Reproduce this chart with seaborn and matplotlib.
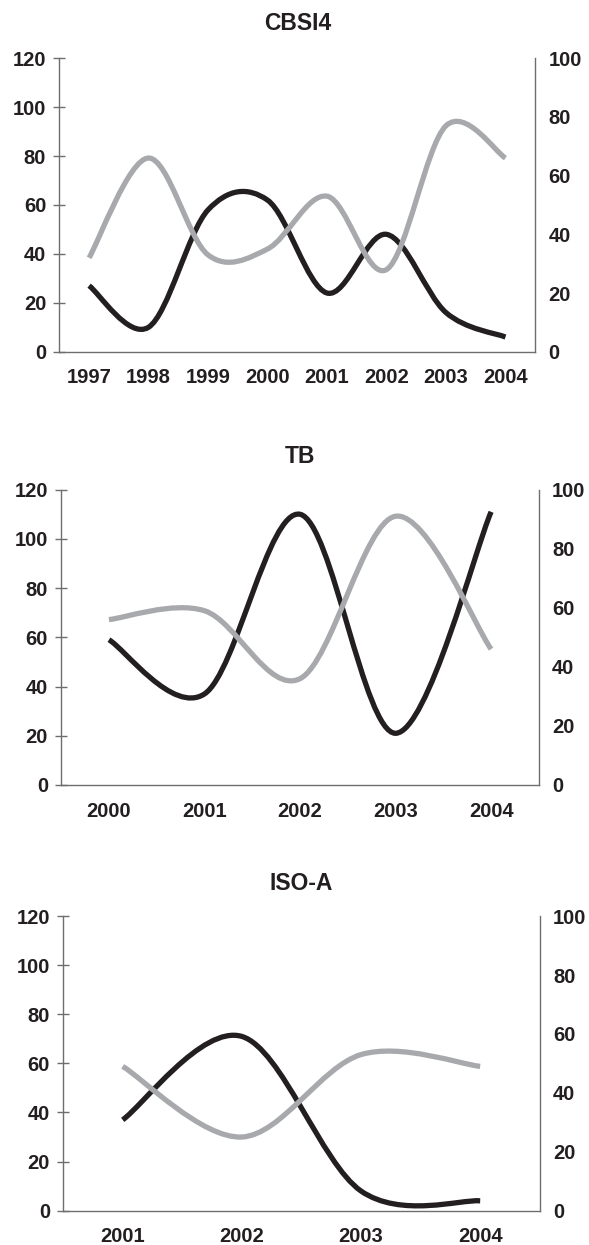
import numpy as np
import matplotlib
matplotlib.use("Agg")
import matplotlib.pyplot as plt
from matplotlib.path import Path
from matplotlib.patches import PathPatch
import seaborn as sns

# ------------------------------------------------------------
# data (black = left axis, gray = right axis)
# ------------------------------------------------------------
cbsi4_years = ['1997', '1998', '1999', '2000', '2001', '2002', '2003', '2004']
cbsi4_black = [27, 10, 58, 62, 24, 48, 16, 6]
cbsi4_gray = [32, 66, 33, 35, 53, 28, 77, 66]

tb_years = ['2000', '2001', '2002', '2003', '2004']
tb_black = [59, 37, 110, 21, 111]
tb_gray = [56, 59, 36, 91, 46]

isoa_years = ['2001', '2002', '2003', '2004']
isoa_black = [37, 71, 8, 4]
isoa_gray = [49, 25, 53, 49]

panels = [
    ('CBSI4', cbsi4_years, cbsi4_black, cbsi4_gray),
    ('TB', tb_years, tb_black, tb_gray),
    ('ISO-A', isoa_years, isoa_black, isoa_gray),
]

# axes boxes in figure fractions (left, bottom, width, height)
boxes = [
    (0.1007, 0.7175, 0.808, 0.2357),
    (0.1039, 0.3695, 0.811, 0.2372),
    (0.1071, 0.0276, 0.8093, 0.2365),
]
title_pads = [20, 19, 19]

BLACK = '#231f20'
GRAY = '#a7a9ac'
AXIS = '#6d6e71'
FS = 14.5

sns.set_style('white', {'axes.edgecolor': AXIS})
plt.rcParams['font.family'] = ['Liberation Sans', 'DejaVu Sans']
plt.rcParams['font.weight'] = 'bold'


def smooth_path(xs, ys):
    # Excel style smoothed line: cubic bezier through the points
    pts = np.column_stack([xs, ys]).astype(float)
    n = len(pts)
    verts = [pts[0]]
    codes = [Path.MOVETO]
    for i in range(n - 1):
        p_prev = pts[i - 1] if i > 0 else pts[i]
        p_next2 = pts[i + 2] if i + 2 < n else pts[i + 1]
        c1 = pts[i] + (pts[i + 1] - p_prev) / 6.0
        c2 = pts[i + 1] - (p_next2 - pts[i]) / 6.0
        verts += [c1, c2, pts[i + 1]]
        codes += [Path.CURVE4] * 3
    return Path(verts, codes)


def style_axis(ax):
    ax.tick_params(axis='both', which='major', direction='inout', length=8.5,
                   width=1.0, color=AXIS, labelsize=FS, labelcolor=BLACK)
    ax.tick_params(axis='y', pad=5.2)
    ax.tick_params(axis='x', pad=12)
    ax.tick_params(axis='x', which='minor', length=0, labelsize=FS,
                   labelcolor=BLACK, pad=12)
    for lab in ax.get_xticklabels(which='both') + ax.get_yticklabels():
        lab.set_fontweight('bold')


fig = plt.figure(figsize=(5.89, 12.45), dpi=100)

for (name, years, black, gray), box, tpad in zip(panels, boxes, title_pads):
    ax = fig.add_axes(box)
    ax2 = ax.twinx()
    n = len(years)
    xs = np.arange(n) + 0.5

    ax.set_xlim(0, n)
    ax.set_ylim(0, 120)
    ax2.set_ylim(0, 100)
    ax.set_yticks(range(0, 121, 20))
    ax2.set_yticks(range(0, 101, 20))
    ax.set_xticks(range(0, n + 1))
    ax.set_xticklabels([])
    ax.set_xticks(xs, minor=True)
    ax.set_xticklabels(years, minor=True, fontweight='bold')

    ax.add_patch(PathPatch(smooth_path(xs, black), fill=False, edgecolor=BLACK,
                           lw=3.8, capstyle='butt', joinstyle='round'))
    ax2.add_patch(PathPatch(smooth_path(xs, gray), fill=False, edgecolor=GRAY,
                            lw=3.8, capstyle='butt', joinstyle='round'))

    sns.despine(ax=ax, top=True, right=True)
    sns.despine(ax=ax2, top=True, left=True, right=False)
    for a in (ax, ax2):
        for sp in a.spines.values():
            sp.set_color(AXIS)
            sp.set_linewidth(1.0)
        style_axis(a)
    ax2.spines['bottom'].set_visible(False)
    ax.grid(False)
    ax2.grid(False)

    ax.set_title(name, fontsize=16.5, fontweight='bold', color=BLACK, pad=tpad)

fig.savefig('out.png', dpi=100)
